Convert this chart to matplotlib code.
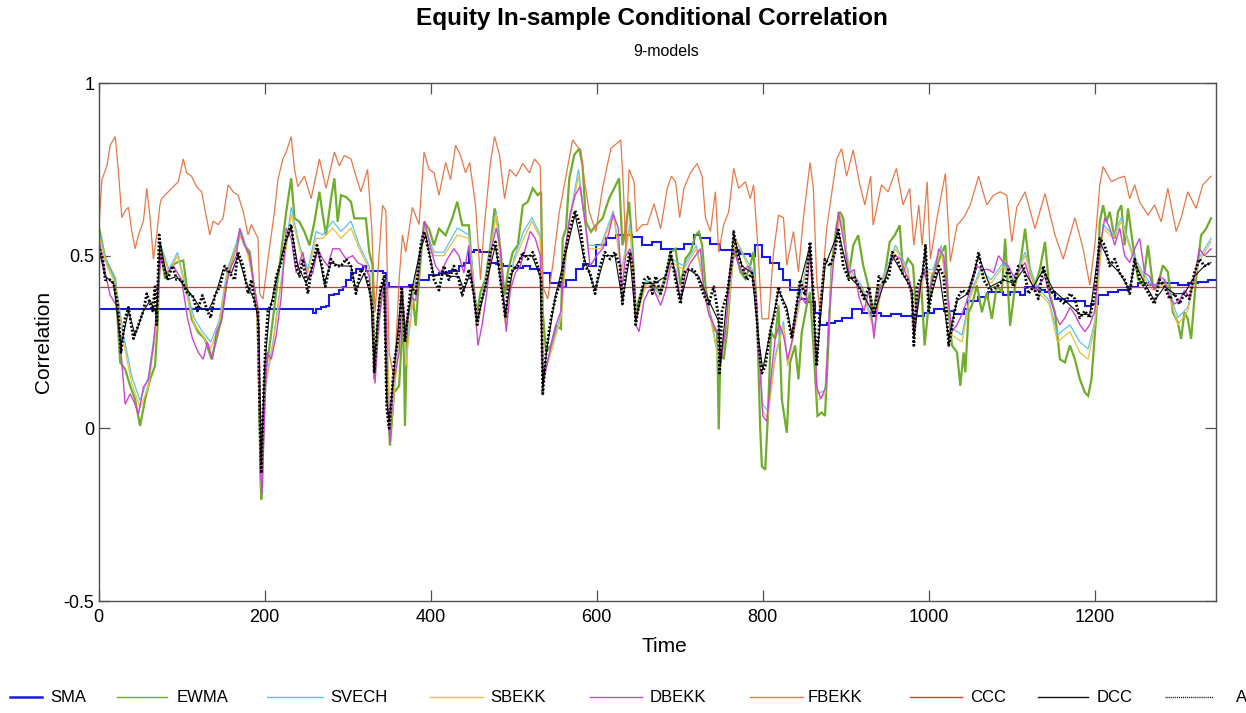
import numpy as np
import matplotlib
matplotlib.use("Agg")
import matplotlib.pyplot as plt
from matplotlib.lines import Line2D

plt.rcParams["font.family"] = ["Liberation Sans", "DejaVu Sans"]

# ---------------------------------------------------------------
# Conditional correlation estimates (time index, correlation)
# ---------------------------------------------------------------
sma_pts = [(0, 0.345), (256, 0.345), (258, 0.335), (262, 0.345), (268, 0.35), (274, 0.355),
           (278, 0.385), (284, 0.39), (290, 0.40), (294, 0.41), (298, 0.43), (304, 0.45),
           (310, 0.46), (318, 0.47), (322, 0.455), (334, 0.455), (342, 0.45), (346, 0.42),
           (350, 0.41), (362, 0.41), (374, 0.415), (386, 0.43), (398, 0.445), (410, 0.45),
           (422, 0.455), (434, 0.47), (440, 0.48), (446, 0.51), (452, 0.515), (460, 0.51),
           (472, 0.48), (479, 0.475), (487, 0.47), (499, 0.465), (511, 0.47), (520, 0.46),
           (533, 0.45), (544, 0.42), (556, 0.41), (563, 0.43), (575, 0.46), (583, 0.475),
           (591, 0.47), (599, 0.53), (611, 0.55), (623, 0.56), (635, 0.56), (643, 0.555),
           (655, 0.53), (667, 0.54), (677, 0.52), (693, 0.52), (705, 0.535), (717, 0.56),
           (725, 0.55), (737, 0.535), (749, 0.515), (761, 0.515), (773, 0.505), (785, 0.50),
           (791, 0.53), (799, 0.495), (809, 0.48), (819, 0.46), (825, 0.43), (833, 0.40),
           (845, 0.375), (853, 0.365), (863, 0.335), (869, 0.30), (877, 0.305), (887, 0.31),
           (895, 0.32), (907, 0.345), (919, 0.335), (931, 0.335), (943, 0.325), (955, 0.33),
           (967, 0.325), (982, 0.325), (994, 0.335), (1006, 0.345), (1018, 0.34), (1030, 0.33),
           (1042, 0.345), (1047, 0.37), (1059, 0.38), (1071, 0.395), (1083, 0.395), (1090, 0.385),
           (1098, 0.395), (1110, 0.385), (1116, 0.41), (1128, 0.40), (1140, 0.395), (1152, 0.375),
           (1164, 0.37), (1176, 0.37), (1188, 0.355), (1196, 0.36), (1204, 0.385), (1216, 0.395),
           (1228, 0.40), (1240, 0.41), (1252, 0.42), (1264, 0.415), (1276, 0.42), (1288, 0.42),
           (1300, 0.415), (1312, 0.42), (1324, 0.425), (1336, 0.43), (1346, 0.43)]

ewma_pts = [(0, 0.588), (8, 0.491), (12, 0.472), (20, 0.433), (26, 0.191), (32, 0.171),
            (38, 0.123), (44, 0.084), (50, 0.007), (56, 0.084), (62, 0.142), (68, 0.181),
            (71, 0.297), (74, 0.53), (80, 0.433), (88, 0.472), (96, 0.482), (102, 0.486),
            (106, 0.414), (112, 0.317), (120, 0.278), (128, 0.259), (136, 0.20), (142, 0.259),
            (148, 0.317), (156, 0.453), (164, 0.511), (170, 0.569), (176, 0.53), (182, 0.511),
            (188, 0.394), (192, 0.336), (195, -0.148), (196, -0.206), (198, -0.05), (201, 0.162),
            (206, 0.24), (212, 0.356), (218, 0.472), (222, 0.55), (226, 0.627), (232, 0.724),
            (236, 0.608), (242, 0.598), (248, 0.569), (254, 0.53), (260, 0.598), (266, 0.685),
            (270, 0.617), (274, 0.559), (280, 0.666), (284, 0.724), (288, 0.598), (292, 0.675),
            (298, 0.67), (304, 0.656), (308, 0.608), (314, 0.608), (322, 0.608), (326, 0.511),
            (330, 0.472), (332, 0.142), (336, 0.259), (340, 0.375), (344, 0.414), (348, 0.094),
            (351, -0.05), (356, 0.104), (362, 0.123), (367, 0.336), (369, 0.007), (372, 0.317),
            (378, 0.394), (382, 0.297), (386, 0.433), (392, 0.598), (398, 0.578), (404, 0.53),
            (410, 0.578), (418, 0.559), (426, 0.608), (432, 0.656), (438, 0.588), (446, 0.588),
            (452, 0.394), (456, 0.336), (460, 0.394), (466, 0.433), (472, 0.53), (477, 0.637),
            (481, 0.588), (485, 0.491), (489, 0.385), (493, 0.453), (499, 0.511), (505, 0.53),
            (511, 0.646), (517, 0.656), (523, 0.695), (529, 0.675), (533, 0.685), (535, 0.336),
            (539, 0.22), (545, 0.24), (551, 0.297), (557, 0.288), (559, 0.549), (563, 0.578),
            (567, 0.724), (573, 0.792), (579, 0.81), (583, 0.76), (587, 0.598), (593, 0.569),
            (599, 0.588), (607, 0.608), (615, 0.666), (621, 0.695), (627, 0.724), (631, 0.53),
            (635, 0.578), (639, 0.656), (643, 0.53), (647, 0.336), (651, 0.375), (657, 0.414),
            (663, 0.424), (669, 0.414), (677, 0.394), (683, 0.433), (689, 0.511), (695, 0.52),
            (701, 0.414), (707, 0.491), (713, 0.511), (719, 0.559), (723, 0.569), (727, 0.53),
            (731, 0.414), (735, 0.346), (741, 0.288), (745, 0.278), (747, -0.003), (749, 0.22),
            (753, 0.20), (757, 0.278), (763, 0.472), (767, 0.52), (773, 0.453), (779, 0.433),
            (785, 0.472), (789, 0.511), (793, 0.336), (797, -0.003), (799, -0.11), (803, -0.12),
            (806, 0.026), (810, 0.278), (815, 0.259), (819, 0.356), (823, 0.084), (829, -0.013),
            (833, 0.191), (839, 0.24), (843, 0.142), (847, 0.278), (853, 0.356), (857, 0.394),
            (861, 0.24), (866, 0.036), (871, 0.046), (875, 0.036), (879, 0.24), (883, 0.472),
            (889, 0.588), (893, 0.627), (897, 0.608), (903, 0.433), (909, 0.53), (915, 0.559),
            (921, 0.472), (927, 0.414), (933, 0.336), (939, 0.414), (945, 0.414), (953, 0.54),
            (959, 0.559), (965, 0.588), (969, 0.453), (975, 0.491), (981, 0.472), (985, 0.336),
            (991, 0.414), (995, 0.24), (999, 0.336), (1004, 0.443), (1010, 0.472), (1016, 0.511),
            (1020, 0.53), (1024, 0.336), (1028, 0.24), (1034, 0.22), (1038, 0.123), (1042, 0.22),
            (1044, 0.162), (1048, 0.336), (1052, 0.356), (1058, 0.414), (1064, 0.336), (1070, 0.394),
            (1076, 0.317), (1082, 0.414), (1088, 0.394), (1092, 0.549), (1098, 0.297), (1104, 0.414),
            (1110, 0.472), (1116, 0.578), (1122, 0.453), (1128, 0.414), (1134, 0.462), (1140, 0.54),
            (1146, 0.385), (1152, 0.336), (1158, 0.20), (1164, 0.191), (1170, 0.24), (1176, 0.20),
            (1182, 0.142), (1188, 0.104), (1192, 0.094), (1196, 0.142), (1202, 0.336), (1206, 0.598),
            (1210, 0.646), (1214, 0.598), (1218, 0.627), (1224, 0.549), (1228, 0.627), (1232, 0.646),
            (1236, 0.53), (1240, 0.637), (1246, 0.53), (1252, 0.433), (1258, 0.414), (1264, 0.53),
            (1270, 0.414), (1276, 0.414), (1282, 0.472), (1288, 0.453), (1294, 0.336), (1300, 0.307),
            (1304, 0.259), (1308, 0.336), (1312, 0.317), (1316, 0.259), (1322, 0.433), (1328, 0.559),
            (1334, 0.578), (1340, 0.608)]

svech_pts = [(0, 0.57), (10, 0.48), (20, 0.43), (30, 0.27), (40, 0.15), (50, 0.08), (60, 0.15),
             (70, 0.32), (75, 0.53), (85, 0.46), (95, 0.51), (105, 0.41), (115, 0.32), (125, 0.28),
             (135, 0.25), (145, 0.31), (155, 0.46), (165, 0.53), (172, 0.57), (180, 0.51),
             (190, 0.38), (196, -0.16), (201, 0.13), (210, 0.25), (220, 0.43), (232, 0.64),
             (242, 0.53), (252, 0.46), (262, 0.57), (270, 0.56), (282, 0.60), (292, 0.57),
             (304, 0.60), (314, 0.53), (326, 0.47), (333, 0.15), (340, 0.39), (346, 0.43),
             (351, -0.02), (358, 0.16), (366, 0.41), (370, 0.20), (380, 0.41), (392, 0.59),
             (404, 0.51), (416, 0.51), (432, 0.58), (446, 0.56), (457, 0.31), (468, 0.46),
             (479, 0.63), (490, 0.31), (500, 0.49), (512, 0.57), (522, 0.61), (532, 0.56),
             (536, 0.16), (545, 0.23), (557, 0.33), (566, 0.59), (578, 0.75), (590, 0.53),
             (605, 0.53), (620, 0.63), (630, 0.46), (640, 0.59), (648, 0.33), (660, 0.43),
             (675, 0.39), (690, 0.49), (705, 0.47), (720, 0.53), (730, 0.41), (740, 0.29),
             (748, 0.19), (757, 0.31), (767, 0.55), (780, 0.49), (790, 0.45), (800, 0.07),
             (806, 0.05), (815, 0.21), (825, 0.31), (830, 0.19), (842, 0.34), (857, 0.53),
             (866, 0.10), (875, 0.11), (883, 0.46), (893, 0.62), (905, 0.46), (920, 0.41),
             (934, 0.29), (945, 0.44), (960, 0.53), (975, 0.46), (983, 0.31), (995, 0.46),
             (1005, 0.46), (1015, 0.53), (1028, 0.29), (1040, 0.27), (1050, 0.39), (1062, 0.46),
             (1075, 0.43), (1090, 0.48), (1102, 0.43), (1116, 0.51), (1130, 0.41), (1145, 0.37),
             (1155, 0.27), (1170, 0.30), (1182, 0.25), (1192, 0.23), (1200, 0.31), (1210, 0.59),
             (1222, 0.56), (1232, 0.61), (1245, 0.51), (1258, 0.45), (1270, 0.41), (1285, 0.43),
             (1300, 0.32), (1312, 0.35), (1325, 0.49), (1340, 0.55)]

sbekk_pts = [(0, 0.56), (10, 0.47), (20, 0.42), (30, 0.25), (40, 0.13), (50, 0.06), (60, 0.12),
             (70, 0.30), (75, 0.52), (85, 0.45), (95, 0.50), (105, 0.40), (115, 0.30), (125, 0.27),
             (135, 0.23), (145, 0.30), (155, 0.45), (165, 0.52), (172, 0.56), (180, 0.50),
             (190, 0.38), (196, -0.17), (201, 0.12), (210, 0.24), (220, 0.42), (232, 0.62),
             (242, 0.52), (252, 0.45), (262, 0.55), (270, 0.55), (282, 0.58), (292, 0.55),
             (304, 0.58), (314, 0.52), (326, 0.46), (333, 0.14), (340, 0.38), (346, 0.42),
             (351, -0.02), (358, 0.15), (366, 0.40), (370, 0.18), (380, 0.40), (392, 0.58),
             (404, 0.50), (416, 0.50), (432, 0.56), (446, 0.55), (457, 0.30), (468, 0.45),
             (479, 0.62), (490, 0.30), (500, 0.48), (512, 0.55), (522, 0.60), (532, 0.55),
             (536, 0.15), (545, 0.22), (557, 0.32), (566, 0.58), (578, 0.73), (590, 0.52),
             (605, 0.52), (620, 0.62), (630, 0.45), (640, 0.58), (648, 0.32), (660, 0.42),
             (675, 0.38), (690, 0.48), (705, 0.46), (720, 0.52), (730, 0.40), (740, 0.28),
             (748, 0.18), (757, 0.30), (767, 0.55), (780, 0.48), (790, 0.44), (800, 0.05),
             (806, 0.03), (815, 0.20), (825, 0.30), (830, 0.18), (842, 0.33), (857, 0.52),
             (866, 0.08), (875, 0.10), (883, 0.45), (893, 0.62), (905, 0.45), (920, 0.40),
             (934, 0.28), (945, 0.43), (960, 0.52), (975, 0.45), (983, 0.30), (995, 0.45),
             (1005, 0.45), (1015, 0.52), (1028, 0.27), (1040, 0.25), (1050, 0.38), (1062, 0.45),
             (1075, 0.42), (1090, 0.47), (1102, 0.42), (1116, 0.50), (1130, 0.40), (1145, 0.36),
             (1155, 0.25), (1170, 0.28), (1182, 0.22), (1192, 0.20), (1200, 0.30), (1210, 0.58),
             (1222, 0.55), (1232, 0.60), (1245, 0.50), (1258, 0.44), (1270, 0.40), (1285, 0.42),
             (1300, 0.30), (1312, 0.34), (1325, 0.48), (1340, 0.54)]

dbekk_pts = [(0, 0.55), (8, 0.45), (14, 0.385), (23, 0.35), (27, 0.22), (32, 0.07), (38, 0.10),
             (44, 0.07), (48, 0.04), (54, 0.12), (60, 0.14), (66, 0.24), (72, 0.40), (75, 0.50),
             (82, 0.45), (90, 0.47), (100, 0.43), (107, 0.32), (113, 0.26), (120, 0.22),
             (126, 0.20), (131, 0.25), (137, 0.20), (142, 0.28), (148, 0.31), (154, 0.42),
             (160, 0.47), (166, 0.50), (170, 0.58), (176, 0.53), (182, 0.50), (188, 0.40),
             (192, 0.35), (195, -0.12), (197, -0.19), (200, 0.05), (203, 0.22), (208, 0.20),
             (214, 0.27), (220, 0.38), (226, 0.58), (232, 0.55), (238, 0.45), (246, 0.51),
             (252, 0.43), (258, 0.45), (264, 0.52), (270, 0.49), (276, 0.47), (282, 0.52),
             (290, 0.52), (298, 0.49), (306, 0.50), (312, 0.48), (320, 0.47), (326, 0.44),
             (330, 0.30), (333, 0.13), (337, 0.30), (342, 0.39), (346, 0.42), (348, 0.08),
             (351, -0.04), (355, 0.13), (362, 0.22), (366, 0.40), (370, 0.26), (376, 0.38),
             (382, 0.37), (388, 0.52), (393, 0.60), (400, 0.52), (406, 0.47), (412, 0.45),
             (420, 0.49), (428, 0.52), (434, 0.50), (440, 0.45), (446, 0.53), (452, 0.39),
             (457, 0.24), (462, 0.30), (468, 0.40), (474, 0.53), (479, 0.58), (484, 0.52),
             (488, 0.38), (491, 0.28), (496, 0.40), (502, 0.45), (508, 0.47), (514, 0.52),
             (520, 0.57), (526, 0.55), (532, 0.50), (535, 0.12), (538, 0.16), (545, 0.24),
             (551, 0.30), (557, 0.34), (562, 0.52), (568, 0.62), (574, 0.675), (580, 0.70),
             (586, 0.60), (592, 0.47), (600, 0.50), (607, 0.52), (614, 0.56), (620, 0.62),
             (626, 0.58), (630, 0.40), (635, 0.50), (640, 0.52), (644, 0.48), (647, 0.30),
             (651, 0.28), (657, 0.37), (663, 0.40), (669, 0.40), (677, 0.356), (683, 0.40),
             (689, 0.47), (695, 0.46), (701, 0.37), (707, 0.45), (713, 0.48), (719, 0.50),
             (725, 0.52), (729, 0.40), (735, 0.33), (741, 0.30), (747, 0.27), (750, 0.20),
             (755, 0.28), (760, 0.42), (765, 0.52), (770, 0.48), (776, 0.45), (782, 0.47),
             (788, 0.45), (792, 0.38), (796, 0.20), (800, 0.036), (805, 0.02), (810, 0.15),
             (815, 0.26), (820, 0.30), (825, 0.27), (830, 0.20), (836, 0.26), (842, 0.36),
             (847, 0.38), (852, 0.36), (857, 0.52), (861, 0.38), (865, 0.12), (870, 0.085),
             (876, 0.12), (880, 0.33), (886, 0.50), (891, 0.627), (897, 0.55), (904, 0.45),
             (910, 0.46), (916, 0.38), (922, 0.34), (928, 0.40), (934, 0.26), (940, 0.40),
             (946, 0.42), (954, 0.48), (960, 0.50), (966, 0.49), (972, 0.45), (978, 0.42),
             (982, 0.28), (988, 0.40), (994, 0.46), (1000, 0.40), (1006, 0.44), (1012, 0.52),
             (1018, 0.50), (1022, 0.40), (1028, 0.28), (1034, 0.30), (1040, 0.33), (1046, 0.37),
             (1052, 0.42), (1058, 0.47), (1064, 0.46), (1072, 0.46), (1078, 0.45), (1084, 0.50),
             (1090, 0.48), (1096, 0.47), (1102, 0.44), (1110, 0.46), (1116, 0.48), (1122, 0.43),
             (1128, 0.40), (1134, 0.42), (1140, 0.44), (1146, 0.38), (1152, 0.33), (1158, 0.30),
             (1164, 0.32), (1170, 0.35), (1176, 0.33), (1182, 0.30), (1188, 0.28), (1194, 0.30),
             (1200, 0.34), (1206, 0.52), (1212, 0.61), (1218, 0.58), (1224, 0.53), (1230, 0.58),
             (1236, 0.50), (1242, 0.48), (1248, 0.52), (1254, 0.55), (1260, 0.45), (1266, 0.44),
             (1272, 0.40), (1278, 0.44), (1284, 0.43), (1290, 0.38), (1296, 0.36), (1302, 0.37),
             (1308, 0.40), (1314, 0.38), (1320, 0.44), (1326, 0.52), (1332, 0.50), (1340, 0.52)]

fbekk_pts = [(0, 0.57), (4, 0.72), (10, 0.76), (14, 0.82), (20, 0.845), (24, 0.74), (28, 0.61),
             (32, 0.63), (36, 0.64), (40, 0.57), (44, 0.52), (48, 0.56), (54, 0.60), (58, 0.695),
             (62, 0.61), (66, 0.49), (70, 0.56), (74, 0.65), (76, 0.665), (88, 0.695), (96, 0.714),
             (102, 0.78), (106, 0.74), (112, 0.73), (118, 0.70), (124, 0.685), (130, 0.61),
             (134, 0.56), (138, 0.60), (144, 0.59), (150, 0.61), (156, 0.705), (162, 0.685),
             (168, 0.675), (174, 0.63), (180, 0.56), (184, 0.59), (188, 0.57), (192, 0.55),
             (194, 0.39), (198, 0.375), (204, 0.49), (212, 0.63), (216, 0.72), (222, 0.78),
             (226, 0.80), (232, 0.845), (236, 0.75), (240, 0.70), (248, 0.73), (256, 0.665),
             (266, 0.78), (274, 0.695), (284, 0.80), (290, 0.76), (296, 0.79), (304, 0.78),
             (310, 0.73), (316, 0.685), (324, 0.75), (329, 0.58), (333, 0.336), (338, 0.51),
             (342, 0.646), (346, 0.63), (350, 0.22), (356, 0.14), (362, 0.43), (366, 0.56),
             (370, 0.51), (378, 0.64), (386, 0.59), (392, 0.80), (398, 0.75), (404, 0.74),
             (410, 0.675), (418, 0.77), (424, 0.72), (430, 0.82), (436, 0.79), (442, 0.74),
             (447, 0.77), (454, 0.647), (460, 0.43), (464, 0.57), (472, 0.77), (477, 0.845),
             (483, 0.79), (489, 0.665), (495, 0.75), (503, 0.73), (511, 0.767), (519, 0.74),
             (525, 0.78), (532, 0.76), (535, 0.41), (541, 0.375), (547, 0.472), (555, 0.627),
             (563, 0.73), (571, 0.835), (577, 0.815), (581, 0.806), (585, 0.72), (591, 0.627),
             (599, 0.57), (607, 0.695), (617, 0.81), (629, 0.835), (632, 0.705), (635, 0.51),
             (639, 0.75), (645, 0.714), (648, 0.57), (655, 0.59), (661, 0.59), (669, 0.65),
             (677, 0.578), (685, 0.695), (690, 0.73), (695, 0.714), (700, 0.61), (705, 0.695),
             (713, 0.74), (721, 0.767), (727, 0.73), (731, 0.61), (737, 0.57), (743, 0.685),
             (747, 0.51), (753, 0.59), (759, 0.627), (765, 0.753), (771, 0.695), (779, 0.714),
             (785, 0.665), (789, 0.705), (794, 0.53), (799, 0.317), (807, 0.317), (813, 0.51),
             (819, 0.617), (825, 0.61), (829, 0.472), (837, 0.57), (843, 0.453), (849, 0.61),
             (857, 0.77), (861, 0.695), (865, 0.43), (869, 0.336), (877, 0.578), (883, 0.68),
             (889, 0.78), (895, 0.81), (901, 0.73), (909, 0.806), (917, 0.705), (923, 0.647),
             (930, 0.73), (933, 0.588), (943, 0.705), (951, 0.685), (961, 0.753), (969, 0.647),
             (977, 0.695), (982, 0.53), (988, 0.647), (992, 0.53), (998, 0.714), (1002, 0.49),
             (1010, 0.61), (1020, 0.738), (1026, 0.482), (1034, 0.588), (1042, 0.61),
             (1050, 0.647), (1060, 0.73), (1070, 0.647), (1078, 0.675), (1086, 0.685),
             (1094, 0.675), (1100, 0.54), (1106, 0.64), (1116, 0.685), (1128, 0.578),
             (1140, 0.68), (1152, 0.56), (1162, 0.49), (1176, 0.61), (1186, 0.52), (1194, 0.414),
             (1200, 0.53), (1206, 0.705), (1210, 0.758), (1220, 0.714), (1228, 0.724),
             (1236, 0.73), (1242, 0.665), (1248, 0.705), (1254, 0.656), (1264, 0.617),
             (1272, 0.647), (1280, 0.598), (1288, 0.695), (1298, 0.57), (1304, 0.61),
             (1312, 0.685), (1322, 0.637), (1330, 0.705), (1340, 0.73)]

ccc_pts = [(0, 0.409), (1346, 0.409)]

dcc_pts = [(0, 0.52), (8, 0.44), (18, 0.42), (27, 0.24), (36, 0.34), (44, 0.27), (54, 0.34),
           (62, 0.37), (70, 0.33), (74, 0.54), (83, 0.43), (94, 0.44), (104, 0.41), (114, 0.38),
           (122, 0.35), (132, 0.34), (140, 0.38), (150, 0.46), (160, 0.45), (168, 0.50),
           (178, 0.42), (188, 0.37), (193, 0.30), (196, -0.10), (200, 0.18), (206, 0.34),
           (214, 0.43), (224, 0.53), (232, 0.58), (240, 0.47), (250, 0.42), (258, 0.47),
           (264, 0.52), (272, 0.42), (280, 0.48), (292, 0.47), (304, 0.47), (310, 0.40),
           (320, 0.45), (328, 0.38), (332, 0.18), (338, 0.38), (344, 0.43), (347, 0.08),
           (350, 0.02), (358, 0.22), (365, 0.40), (369, 0.27), (378, 0.41), (388, 0.52),
           (394, 0.56), (404, 0.44), (414, 0.45), (424, 0.44), (434, 0.44), (440, 0.40),
           (448, 0.45), (456, 0.31), (466, 0.41), (478, 0.53), (486, 0.40), (490, 0.33),
           (498, 0.45), (510, 0.50), (522, 0.50), (532, 0.44), (535, 0.12), (540, 0.23),
           (550, 0.38), (562, 0.50), (574, 0.62), (584, 0.50), (598, 0.40), (610, 0.50),
           (622, 0.50), (631, 0.37), (640, 0.50), (647, 0.31), (657, 0.42), (670, 0.42),
           (683, 0.44), (690, 0.50), (701, 0.37), (711, 0.46), (723, 0.44), (735, 0.37),
           (747, 0.31), (749, 0.18), (757, 0.38), (765, 0.56), (775, 0.47), (787, 0.45),
           (795, 0.26), (800, 0.17), (810, 0.29), (819, 0.40), (829, 0.35), (835, 0.27),
           (845, 0.42), (857, 0.53), (865, 0.19), (875, 0.47), (891, 0.57), (904, 0.44),
           (916, 0.41), (934, 0.33), (946, 0.42), (956, 0.50), (968, 0.45), (980, 0.40),
           (982, 0.26), (996, 0.52), (1000, 0.36), (1012, 0.46), (1024, 0.26), (1034, 0.37),
           (1047, 0.39), (1060, 0.50), (1074, 0.41), (1090, 0.43), (1102, 0.42), (1114, 0.46),
           (1126, 0.41), (1138, 0.46), (1150, 0.40), (1164, 0.37), (1182, 0.33), (1194, 0.33),
           (1206, 0.54), (1218, 0.48), (1230, 0.45), (1242, 0.40), (1248, 0.48), (1260, 0.42),
           (1272, 0.37), (1284, 0.41), (1296, 0.39), (1308, 0.39), (1320, 0.44), (1332, 0.47),
           (1340, 0.48)]

adcc_pts = [(0, 0.53), (5, 0.49), (8, 0.43), (14, 0.43), (18, 0.42), (23, 0.36), (27, 0.22),
            (32, 0.32), (36, 0.35), (42, 0.26), (48, 0.30), (54, 0.34), (58, 0.39), (65, 0.34),
            (68, 0.41), (70, 0.30), (73, 0.56), (76, 0.49), (83, 0.43), (89, 0.47), (94, 0.43),
            (100, 0.43), (107, 0.39), (113, 0.385), (119, 0.34), (125, 0.385), (131, 0.34),
            (135, 0.32), (140, 0.385), (146, 0.41), (152, 0.47), (158, 0.45), (164, 0.43),
            (168, 0.51), (174, 0.47), (180, 0.39), (184, 0.43), (188, 0.36), (192, 0.34),
            (194, 0.05), (196, -0.13), (198, 0.05), (201, 0.24), (204, 0.34), (210, 0.37),
            (214, 0.44), (220, 0.48), (226, 0.55), (232, 0.59), (238, 0.47), (242, 0.44),
            (246, 0.49), (252, 0.39), (257, 0.47), (263, 0.53), (269, 0.47), (273, 0.41),
            (280, 0.49), (286, 0.47), (292, 0.47), (298, 0.49), (304, 0.47), (310, 0.39),
            (316, 0.46), (322, 0.44), (326, 0.41), (330, 0.34), (332, 0.16), (336, 0.31),
            (340, 0.41), (344, 0.44), (347, 0.06), (350, 0.0), (356, 0.19), (362, 0.28),
            (365, 0.41), (369, 0.25), (376, 0.41), (382, 0.39), (388, 0.53), (392, 0.57),
            (398, 0.51), (404, 0.43), (410, 0.40), (416, 0.47), (422, 0.43), (428, 0.47),
            (434, 0.43), (438, 0.385), (443, 0.43), (446, 0.46), (452, 0.39), (456, 0.30),
            (460, 0.36), (466, 0.41), (472, 0.51), (478, 0.54), (482, 0.47), (486, 0.39),
            (490, 0.32), (494, 0.43), (499, 0.46), (505, 0.47), (511, 0.51), (517, 0.49),
            (523, 0.51), (529, 0.47), (533, 0.43), (535, 0.10), (539, 0.22), (545, 0.32),
            (551, 0.385), (557, 0.43), (562, 0.51), (568, 0.58), (574, 0.63), (580, 0.59),
            (586, 0.47), (592, 0.45), (598, 0.39), (604, 0.47), (610, 0.51), (616, 0.49),
            (622, 0.51), (628, 0.47), (631, 0.36), (635, 0.45), (640, 0.51), (644, 0.45),
            (647, 0.30), (651, 0.36), (657, 0.43), (663, 0.44), (667, 0.39), (671, 0.44),
            (677, 0.39), (683, 0.44), (689, 0.51), (695, 0.43), (701, 0.36), (705, 0.45),
            (711, 0.46), (717, 0.46), (723, 0.43), (729, 0.385), (735, 0.36), (741, 0.41),
            (747, 0.32), (748, 0.16), (751, 0.34), (757, 0.39), (763, 0.49), (765, 0.57),
            (769, 0.51), (775, 0.47), (781, 0.43), (787, 0.45), (791, 0.385), (795, 0.24),
            (799, 0.16), (803, 0.18), (809, 0.28), (815, 0.34), (819, 0.41), (823, 0.375),
            (829, 0.34), (835, 0.26), (841, 0.36), (845, 0.43), (851, 0.385), (857, 0.54),
            (861, 0.385), (865, 0.18), (869, 0.34), (875, 0.49), (881, 0.47), (887, 0.51),
            (891, 0.58), (897, 0.47), (904, 0.43), (910, 0.44), (916, 0.41), (922, 0.375),
            (928, 0.41), (934, 0.32), (940, 0.44), (946, 0.42), (952, 0.44), (956, 0.51),
            (962, 0.49), (968, 0.45), (974, 0.43), (980, 0.39), (982, 0.24), (986, 0.41),
            (993, 0.45), (996, 0.53), (1000, 0.34), (1006, 0.43), (1012, 0.47), (1018, 0.44),
            (1024, 0.24), (1030, 0.32), (1034, 0.375), (1040, 0.40), (1047, 0.39), (1055, 0.45),
            (1060, 0.51), (1066, 0.43), (1074, 0.40), (1082, 0.41), (1090, 0.43), (1096, 0.46),
            (1102, 0.41), (1108, 0.47), (1114, 0.47), (1120, 0.39), (1126, 0.41), (1132, 0.375),
            (1138, 0.47), (1144, 0.41), (1150, 0.39), (1156, 0.375), (1164, 0.36), (1170, 0.39),
            (1176, 0.375), (1182, 0.32), (1188, 0.34), (1194, 0.32), (1200, 0.39), (1206, 0.55),
            (1212, 0.53), (1218, 0.47), (1224, 0.49), (1230, 0.45), (1236, 0.43), (1242, 0.39),
            (1248, 0.49), (1254, 0.43), (1260, 0.41), (1266, 0.385), (1272, 0.36), (1278, 0.43),
            (1284, 0.41), (1290, 0.375), (1296, 0.39), (1302, 0.36), (1308, 0.39), (1314, 0.375),
            (1320, 0.45), (1326, 0.49), (1332, 0.47), (1340, 0.48)]

model_names = ["SMA", "EWMA", "SVECH", "SBEKK", "DBEKK", "FBEKK", "CCC", "DCC", "ADCC"]
x_ticks = [0, 200, 400, 600, 800, 1000, 1200]
y_ticks = [-0.5, 0, 0.5, 1]
y_tick_labels = ["-0.5", "0", "0.5", "1"]

series = [sma_pts, ewma_pts, svech_pts, sbekk_pts, dbekk_pts, fbekk_pts, ccc_pts, dcc_pts, adcc_pts]
colors = ["#1a1ae6", "#6fad2a", "#5cc4ec", "#e8c040", "#cc44d6", "#e87848", "#f03030", "#111111", "#000000"]
widths = [1.5, 1.6, 0.9, 0.9, 1.0, 0.9, 0.9, 0.8, 2.0]
styles = ["-", "-", "-", "-", "-", "-", "-", "-", (0, (0.7, 0.7))]
drawstyles = ["steps-post"] + ["default"] * 8

W, H = 1246, 713
fig = plt.figure(figsize=(W / 100, H / 100), dpi=100)
ax = fig.add_axes([98.6 / W, 1 - 601 / H, (1216 - 98.6) / W, (601 - 83) / H])

for pts, c, lw, ls, ds in zip(series, colors, widths, styles, drawstyles):
    t, v = zip(*pts)
    ax.plot(t, v, color=c, lw=lw, ls=ls, drawstyle=ds, solid_joinstyle="miter")

ax.set_xlim(0, 1346)
ax.set_ylim(-0.5, 1)
ax.set_xticks(x_ticks)
ax.set_yticks(y_ticks)
ax.set_yticklabels(y_tick_labels)
ax.tick_params(direction="in", length=8, width=0.9, color="#505050",
               top=True, right=True, labelsize=13)
ax.tick_params(axis="x", pad=6)
ax.tick_params(axis="y", pad=3)
for s in ax.spines.values():
    s.set_color("#505050")
    s.set_linewidth(1.0)

ax.set_xlabel("Time", fontsize=15)
ax.xaxis.set_label_coords((664 - 98.6) / 1117.4, -(637 - 601) / 518)
ax.set_ylabel("Correlation", fontsize=15)
ax.yaxis.set_label_coords((53 - 98.6) / 1117.4, 0.5)

fig.text(652 / W, 1 - 18 / H, "Equity In-sample Conditional Correlation",
         ha="center", va="center", fontsize=17.5, fontweight="bold")
fig.text(666 / W, 1 - 52 / H, "9-models", ha="center", va="center", fontsize=11.5)

# horizontal legend row below the axes
leg_y = 1 - 697 / H
leg_pos = [(10, 42, 50), (117, 167, 177), (267, 323, 330), (430, 483, 490), (590, 642, 650),
           (750, 803, 808), (910, 962, 970), (1038, 1088, 1097), (1165, 1213, 1236)]
leg_widths = [1.8, 1.0, 1.0, 1.0, 1.0, 1.0, 1.0, 1.0, 1.0]
for name, (x0, x1, xt), c, lw, ls in zip(model_names, leg_pos, colors, leg_widths, styles):
    fig.add_artist(Line2D([x0 / W, x1 / W], [leg_y, leg_y], transform=fig.transFigure,
                          color=c, lw=lw, ls=ls))
    fig.text(xt / W, leg_y, name, ha="left", va="center", fontsize=12)

fig.savefig("out.png", dpi=100)
